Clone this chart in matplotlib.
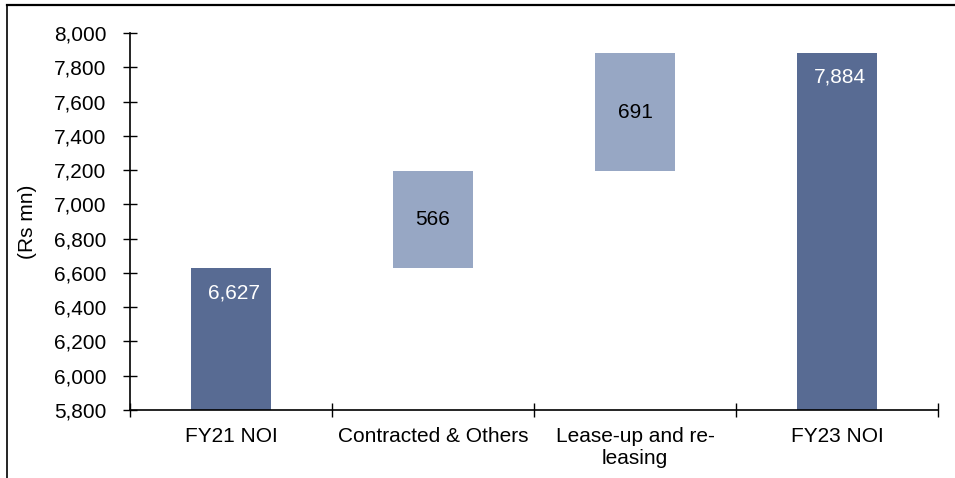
import matplotlib
matplotlib.use("Agg")
import matplotlib.pyplot as plt
from matplotlib.lines import Line2D
from matplotlib.ticker import FuncFormatter, MultipleLocator

plt.rcParams['font.family'] = ['Liberation Sans', 'DejaVu Sans']

# NOI bridge, Rs mn
categories = ["FY21 NOI", "Contracted & Others", "Lease-up and re-\nleasing", "FY23 NOI"]
start_value = 6627
changes = [566, 691]
end_value = 7884

dark = "#586B93"
light = "#97A7C4"

fig = plt.figure(figsize=(9.55, 4.78), dpi=100)
ax = fig.add_axes([0.1361, 0.1423, 0.9822 - 0.1361, 0.931 - 0.1423])

# totals drawn from zero (clipped by the axis floor), steps float on the running sum
ax.bar(0, start_value, width=0.4, color=dark)
running = start_value
for i, c in enumerate(changes, start=1):
    ax.bar(i, c, bottom=running, width=0.4, color=light)
    ax.text(i, running + c / 2, f"{c:,}", ha="center", va="center",
            fontsize=15, color="black")
    running += c
ax.bar(len(categories) - 1, end_value, width=0.4, color=dark)

for x, v in [(0, start_value), (len(categories) - 1, end_value)]:
    ax.annotate(f"{v:,}", xy=(x, v), xytext=(2, -17.5), textcoords="offset points",
                ha="center", va="center", fontsize=15, color="white")

ax.set_ylim(5800, 8000)
ax.set_xlim(-0.5, len(categories) - 0.5)
ax.yaxis.set_major_locator(MultipleLocator(200))
ax.yaxis.set_major_formatter(FuncFormatter(lambda v, p: f"{int(v):,}"))
ax.set_ylabel("(Rs mn)", fontsize=15, labelpad=12)

# labels centred on bars, tick marks on the category boundaries
ax.set_xticks(range(len(categories)))
ax.set_xticklabels(categories, fontsize=15, linespacing=1.2)
ax.set_xticks([i - 0.5 for i in range(len(categories) + 1)], minor=True)
ax.tick_params(axis="x", which="major", length=0, pad=12)
ax.tick_params(axis="x", which="minor", direction="inout", length=10, width=1.0)
ax.tick_params(axis="y", direction="inout", length=10, width=1.0, pad=12, labelsize=15)

for s in ["top", "right"]:
    ax.spines[s].set_visible(False)
for s in ["left", "bottom"]:
    ax.spines[s].set_linewidth(1.2)

# outer frame: top and left edges
fig.add_artist(Line2D([7 / 955, 1], [1 - 5 / 478, 1 - 5 / 478], color="black",
                      linewidth=1.6, transform=fig.transFigure))
fig.add_artist(Line2D([7 / 955, 7 / 955], [0, 1 - 5 / 478], color="black",
                      linewidth=1.2, transform=fig.transFigure))

fig.savefig("out.png", dpi=100)
